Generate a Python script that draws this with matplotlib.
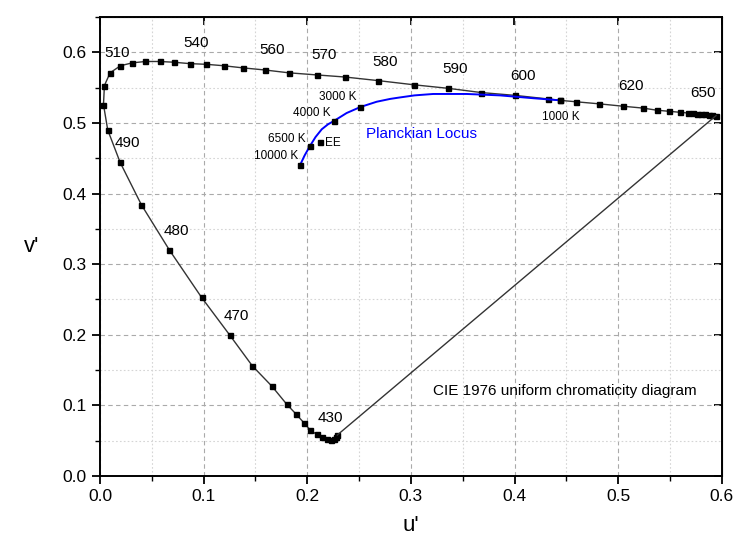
import matplotlib
matplotlib.use("Agg")
import matplotlib.pyplot as plt
from matplotlib.ticker import MultipleLocator, NullLocator

plt.rcParams['font.family'] = ['Liberation Sans', 'DejaVu Sans']

# spectral locus (violet end -> red end)
spec_u = [0.229, 0.228, 0.226, 0.223, 0.219, 0.214, 0.209, 0.203, 0.197, 0.189,
          0.180, 0.166, 0.147, 0.125, 0.098, 0.067, 0.040, 0.0195, 0.0075, 0.0034,
          0.0043, 0.0098, 0.0198, 0.031, 0.0437, 0.0575, 0.071, 0.0865, 0.1026, 0.1193,
          0.1377, 0.159, 0.182, 0.209, 0.2365, 0.268, 0.303, 0.336, 0.368, 0.4005,
          0.432, 0.444, 0.459, 0.482, 0.505, 0.524, 0.5374, 0.549, 0.560, 0.5676,
          0.572, 0.576, 0.580, 0.584, 0.588, 0.591, 0.5945]
spec_v = [0.058, 0.055, 0.052, 0.051, 0.052, 0.055, 0.059, 0.065, 0.075, 0.088,
          0.102, 0.127, 0.156, 0.200, 0.253, 0.320, 0.384, 0.444, 0.490, 0.526,
          0.553, 0.571, 0.581, 0.585, 0.587, 0.587, 0.586, 0.584, 0.583, 0.581,
          0.578, 0.575, 0.571, 0.568, 0.565, 0.560, 0.554, 0.549, 0.543, 0.539,
          0.534, 0.532, 0.530, 0.527, 0.5236, 0.521, 0.518, 0.5165, 0.515, 0.514,
          0.5135, 0.513, 0.5125, 0.512, 0.5115, 0.511, 0.5104]

# wavelength labels
wl_text = ['510', '540', '560', '570', '580', '590', '600', '620', '650',
           '490', '480', '470', '430']
wl_u = [0.0165, 0.093, 0.166, 0.216, 0.275, 0.3425, 0.408, 0.5125, 0.582,
        0.026, 0.074, 0.132, 0.2227]
wl_v = [0.599, 0.613, 0.603, 0.596, 0.586, 0.577, 0.567, 0.552, 0.542,
        0.471, 0.347, 0.226, 0.082]

# Planckian locus (blue line)
pl_u = [0.193, 0.1975, 0.2025, 0.208, 0.214, 0.220, 0.226, 0.238, 0.2514, 0.267,
        0.280, 0.289, 0.3035, 0.3215, 0.354, 0.386, 0.418, 0.444]
pl_v = [0.440, 0.454, 0.467, 0.480, 0.491, 0.498, 0.503, 0.514, 0.5226, 0.530,
        0.534, 0.536, 0.539, 0.541, 0.541, 0.539, 0.535, 0.532]

# marked temperatures
temp_text = ['10000 K', '6500 K', '4000 K', '3000 K', '1000 K']
temp_u = [0.193, 0.2025, 0.226, 0.2514, 0.444]
temp_v = [0.440, 0.467, 0.503, 0.5226, 0.532]
temp_lu = [0.1696, 0.180, 0.2043, 0.2295, 0.445]
temp_lv = [0.453, 0.477, 0.514, 0.537, 0.509]

ee_u, ee_v = 0.212, 0.473

fig = plt.figure(figsize=(7.35, 5.45), dpi=100)
ax = fig.add_axes([0.136, 0.1266, 0.846, 0.8422])

ax.plot(spec_u, spec_v, color='#333333', lw=1.0, marker='s', ms=3.6,
        mfc='black', mec='black', zorder=3)
ax.plot([spec_u[0], spec_u[-1]], [spec_v[0], spec_v[-1]], color='#333333', lw=1.0, zorder=3)

ax.plot(pl_u, pl_v, color='#0000ff', lw=1.4, zorder=4)
ax.plot(temp_u, temp_v, ls='none', marker='s', ms=3.6, color='black', zorder=5)
ax.plot([ee_u], [ee_v], ls='none', marker='s', ms=3.6, color='black', zorder=5)

for t, u, v in zip(wl_text, wl_u, wl_v):
    ax.text(u, v, t, fontsize=11, ha='center', va='center')
for t, u, v in zip(temp_text, temp_lu, temp_lv):
    ax.text(u, v, t, fontsize=8.5, ha='center', va='center')
ax.text(0.217, 0.471, 'EE', fontsize=8.5, ha='left', va='center')
ax.text(0.310, 0.485, 'Planckian Locus', fontsize=11, color='#0000ff', ha='center', va='center')
ax.text(0.449, 0.120, 'CIE 1976 uniform chromaticity diagram', fontsize=11,
        ha='center', va='center')

ax.set_xlim(0, 0.6)
ax.set_ylim(0, 0.65)
ax.xaxis.set_major_locator(MultipleLocator(0.1))
ax.xaxis.set_minor_locator(MultipleLocator(0.05))
ax.yaxis.set_major_locator(MultipleLocator(0.1))
ax.yaxis.set_minor_locator(MultipleLocator(0.05))
ax.xaxis.set_major_formatter(lambda x, p: '%.1f' % x)
ax.yaxis.set_major_formatter(lambda x, p: '%.1f' % x)

ax.grid(which='major', color='#aaaaaa', ls=(0, (4, 3)), lw=0.8)
ax.grid(which='minor', color='#d5d5d5', ls=(0, (1.5, 2)), lw=0.8)
ax.set_axisbelow(True)

ax.tick_params(which='major', direction='out', length=6, width=1.3, labelsize=12.5)
ax.tick_params(which='minor', direction='out', length=3.5, width=1.0)
for s in ax.spines.values():
    s.set_linewidth(1.4)

# inward ticks on the top/right borders
ax2 = ax.secondary_xaxis('top')
ax2.xaxis.set_major_locator(MultipleLocator(0.1))
ax2.xaxis.set_minor_locator(NullLocator())
ax2.tick_params(direction='in', length=6, width=1.3, labeltop=False)
ax3 = ax.secondary_yaxis('right')
ax3.yaxis.set_major_locator(MultipleLocator(0.1))
ax3.yaxis.set_minor_locator(NullLocator())
ax3.tick_params(direction='in', length=6, width=1.3, labelright=False)

ax.set_xlabel("u'", fontsize=16, labelpad=8)
ax.set_ylabel("v'", fontsize=16, rotation=0, labelpad=22, va='center')

fig.savefig('out.png', dpi=100)
